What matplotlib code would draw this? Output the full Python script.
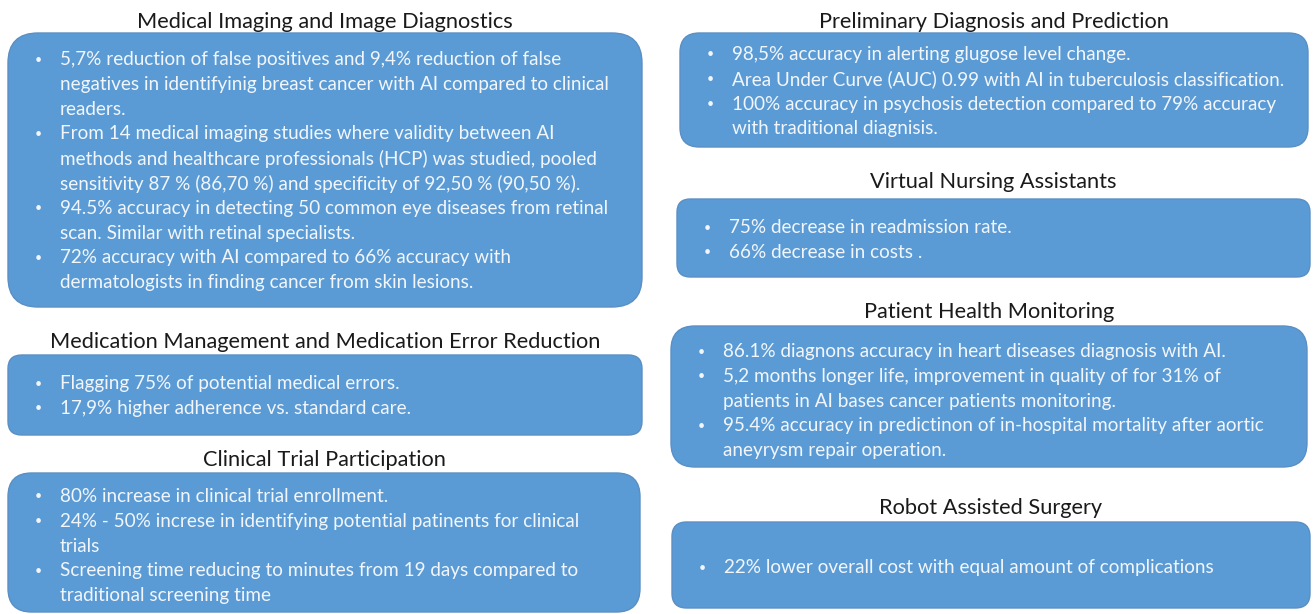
import matplotlib.pyplot as plt
from matplotlib.patches import FancyBboxPatch

plt.rcParams['font.family'] = ['Lato', 'DejaVu Sans']

# section titles and bullet texts (each bullet = list of wrapped lines)
titles = [
    "Medical Imaging and Image Diagnostics",
    "Medication Management and Medication Error Reduction",
    "Clinical Trial Participation",
    "Preliminary Diagnosis and Prediction",
    "Virtual Nursing Assistants",
    "Patient Health Monitoring",
    "Robot Assisted Surgery",
]

bullets = [
    [["5,7% reduction of false positives and 9,4% reduction of false",
      "negatives in identifyinig breast cancer with AI compared to clinical",
      "readers."],
     ["From 14 medical imaging studies where validity between AI",
      "methods and healthcare professionals (HCP) was studied, pooled",
      "sensitivity 87 % (86,70 %) and specificity of 92,50 % (90,50 %)."],
     ["94.5% accuracy in detecting 50 common eye diseases from retinal",
      "scan. Similar with retinal specialists."],
     ["72% accuracy with AI compared to 66% accuracy with",
      "dermatologists in finding cancer from skin lesions."]],
    [["Flagging 75% of potential medical errors."],
     ["17,9% higher adherence vs. standard care."]],
    [["80% increase in clinical trial enrollment."],
     ["24% - 50% increse in identifying potential patinents for clinical",
      "trials"],
     ["Screening time reducing to minutes from 19 days compared to",
      "traditional screening time"]],
    [["98,5% accuracy in alerting glugose level change."],
     ["Area Under Curve (AUC) 0.99 with AI in tuberculosis classification."],
     ["100% accuracy in psychosis detection compared to 79% accuracy",
      "with traditional diagnisis."]],
    [["75% decrease in readmission rate."],
     ["66% decrease in costs ."]],
    [["86.1% diagnons accuracy in heart diseases diagnosis with AI."],
     ["5,2 months longer life, improvement in quality of for 31% of",
      "patients in AI bases cancer patients monitoring."],
     ["95.4% accuracy in predictinon of in-hospital mortality after aortic",
      "aneyrysm repair operation."]],
    [["22% lower overall cost with equal amount of complications"]],
]

# layout in pixels: box (x0, y0, x1, y1), title y, first text line y
boxes = [
    (8, 33, 642, 307, 21.5, 59.5),
    (8, 355, 642, 435, 342.5, 383.5),
    (8, 473, 640, 612, 460.5, 496.5),
    (680, 33, 1308, 147, 21.5, 54.5),
    (677, 199, 1310, 277, 182.5, 227.5),
    (671, 326, 1307, 467, 312.5, 351.5),
    (672, 522, 1310, 608, 507.5, 568),
]
line_h = 24.8

fig = plt.figure(figsize=(13.13, 6.14), dpi=100)
ax = fig.add_axes([0, 0, 1, 1])
ax.set_xlim(0, 1313)
ax.set_ylim(614, 0)
ax.axis('off')

for title, items, (x0, y0, x1, y1, ty, ly) in zip(titles, bullets, boxes):
    w, h = x1 - x0, y1 - y0
    r = min(30, 0.17 * h)
    ax.add_patch(FancyBboxPatch((x0, y0), w, h,
                                boxstyle=f"round,pad=0,rounding_size={r}",
                                facecolor='#5b9bd5', edgecolor='#5a8fc4',
                                linewidth=1))
    ax.text((x0 + x1) / 2, ty, title, ha='center', va='center',
            fontsize=15.7, color='#1a1a1a')
    y = ly
    for item in items:
        ax.text(x0 + 30, y, "\u2022", ha='center', va='center',
                fontsize=9, color='#f2f6fb')
        for line in item:
            ax.text(x0 + 52, y, line, ha='left', va='center',
                    fontsize=13.6, color='#f2f6fb')
            y += line_h

fig.savefig('out.png', dpi=100)
